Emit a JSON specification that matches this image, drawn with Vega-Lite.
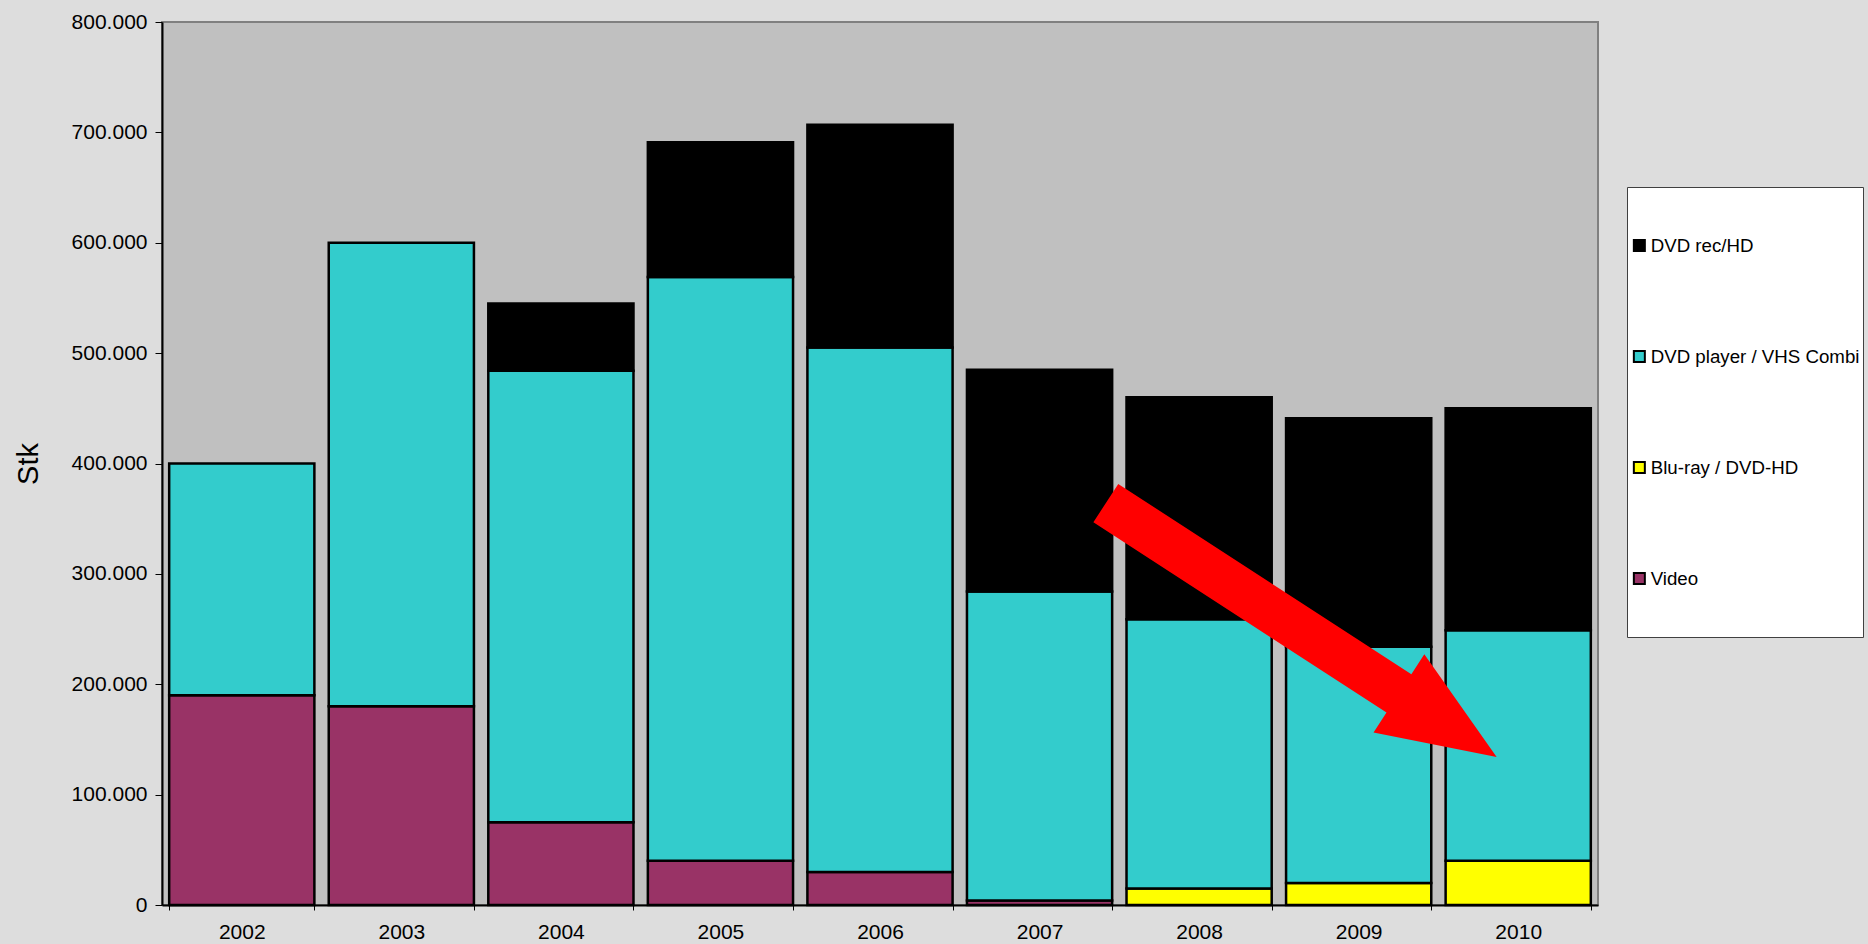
{
  "$schema": "https://vega.github.io/schema/vega-lite/v6.json",
  "autosize": {"type": "none"},
  "padding": {"left": 162, "top": 22, "right": 270, "bottom": 39},
  "width": 1436,
  "height": 883,
  "background": "#DDDDDD",
  "config": {
    "font": "Liberation Sans",
    "view": {"fill": "#C0C0C0", "stroke": "#808080", "strokeWidth": 2},
    "axis": {"labelColor": "#000000", "titleColor": "#000000", "tickColor": "#000000", "domainColor": "#000000", "grid": false, "labelFont": "Liberation Sans", "titleFont": "Liberation Sans"},
    "legend": {"labelFont": "Liberation Sans"}
  },
  "layer": [
    {
      "data": {
        "values": [
          {"year": "2002", "series": "Video", "ord": 1, "value": 190000},
          {"year": "2002", "series": "DVD player / VHS Combi", "ord": 3, "value": 210000},
          {"year": "2003", "series": "Video", "ord": 1, "value": 180000},
          {"year": "2003", "series": "DVD player / VHS Combi", "ord": 3, "value": 420000},
          {"year": "2004", "series": "Video", "ord": 1, "value": 75000},
          {"year": "2004", "series": "DVD player / VHS Combi", "ord": 3, "value": 409000},
          {"year": "2004", "series": "DVD rec/HD", "ord": 4, "value": 61000},
          {"year": "2005", "series": "Video", "ord": 1, "value": 40000},
          {"year": "2005", "series": "DVD player / VHS Combi", "ord": 3, "value": 529000},
          {"year": "2005", "series": "DVD rec/HD", "ord": 4, "value": 122000},
          {"year": "2006", "series": "Video", "ord": 1, "value": 30000},
          {"year": "2006", "series": "DVD player / VHS Combi", "ord": 3, "value": 475000},
          {"year": "2006", "series": "DVD rec/HD", "ord": 4, "value": 202000},
          {"year": "2007", "series": "Video", "ord": 1, "value": 4000},
          {"year": "2007", "series": "DVD player / VHS Combi", "ord": 3, "value": 280000},
          {"year": "2007", "series": "DVD rec/HD", "ord": 4, "value": 201000},
          {"year": "2008", "series": "Blu-ray / DVD-HD", "ord": 2, "value": 15000},
          {"year": "2008", "series": "DVD player / VHS Combi", "ord": 3, "value": 244000},
          {"year": "2008", "series": "DVD rec/HD", "ord": 4, "value": 201000},
          {"year": "2009", "series": "Blu-ray / DVD-HD", "ord": 2, "value": 20000},
          {"year": "2009", "series": "DVD player / VHS Combi", "ord": 3, "value": 214000},
          {"year": "2009", "series": "DVD rec/HD", "ord": 4, "value": 207000},
          {"year": "2010", "series": "Blu-ray / DVD-HD", "ord": 2, "value": 40000},
          {"year": "2010", "series": "DVD player / VHS Combi", "ord": 3, "value": 209000},
          {"year": "2010", "series": "DVD rec/HD", "ord": 4, "value": 201000}
        ]
      },
      "mark": {"type": "bar", "stroke": "#000000", "strokeWidth": 2.5},
      "encoding": {
        "x": {
          "field": "year", "type": "nominal",
          "scale": {"paddingInner": 0.09, "paddingOuter": 0.045},
          "axis": {"title": null, "labelAngle": 0, "tickBand": "extent", "tickSize": 5, "domainWidth": 2, "labelFontSize": 21, "labelPadding": 11}
        },
        "y": {
          "field": "value", "type": "quantitative", "stack": "zero",
          "scale": {"domain": [0, 800000], "nice": false},
          "axis": {
            "title": "Stk",
            "values": [0, 100000, 200000, 300000, 400000, 500000, 600000, 700000, 800000],
            "labelExpr": "replace(format(datum.value, ','), ',', '.')",
            "tickSize": 7, "domainWidth": 2, "labelFontSize": 21, "labelPadding": 8,
            "titleFontSize": 29, "titleFontWeight": "normal", "titleAngle": -90,
            "titleX": -125, "titleY": 441.5, "titleAlign": "center", "titleBaseline": "alphabetic"
          }
        },
        "color": {
          "field": "series", "type": "nominal",
          "scale": {
            "domain": ["DVD rec/HD", "DVD player / VHS Combi", "Blu-ray / DVD-HD", "Video"],
            "range": ["#000000", "#33CCCC", "#FFFF00", "#993366"]
          },
          "legend": {
            "title": null, "orient": "none", "legendX": 1465, "legendY": 165,
            "fillColor": "#FFFFFF", "strokeColor": "#404040", "padding": 3,
            "clipHeight": 111, "rowPadding": 0, "symbolType": "square", "symbolSize": 121,
            "symbolStrokeColor": "#000000", "symbolStrokeWidth": 2,
            "labelFontSize": 18.7, "labelColor": "#000000", "labelOffset": 2, "labelLimit": 0
          }
        },
        "order": {"field": "ord", "type": "quantitative"}
      }
    },
    {
      "data": {"values": [{"ax": 7.14, "ay": 249150}]},
      "mark": {
        "type": "point",
        "shape": "M-1,-0.098L0.5,-0.098L0.5,-0.2L1,0L0.5,0.2L0.5,0.098L-1,0.098Z",
        "filled": true, "fill": "#FF0000", "strokeWidth": 0, "opacity": 1,
        "size": 217156, "angle": 33
      },
      "encoding": {
        "x": {"field": "ax", "type": "quantitative", "scale": {"domain": [0, 9], "nice": false, "zero": false}, "axis": null},
        "y": {
          "field": "ay", "type": "quantitative", "scale": {"domain": [0, 800000], "nice": false},
          "axis": {
            "title": "Stk",
            "values": [0, 100000, 200000, 300000, 400000, 500000, 600000, 700000, 800000],
            "labelExpr": "replace(format(datum.value, ','), ',', '.')",
            "tickSize": 7, "domainWidth": 2, "labelFontSize": 21, "labelPadding": 8,
            "titleFontSize": 29, "titleFontWeight": "normal", "titleAngle": -90,
            "titleX": -125, "titleY": 441.5, "titleAlign": "center", "titleBaseline": "alphabetic"
          }
        }
      }
    }
  ],
  "resolve": {"scale": {"x": "independent"}}
}
